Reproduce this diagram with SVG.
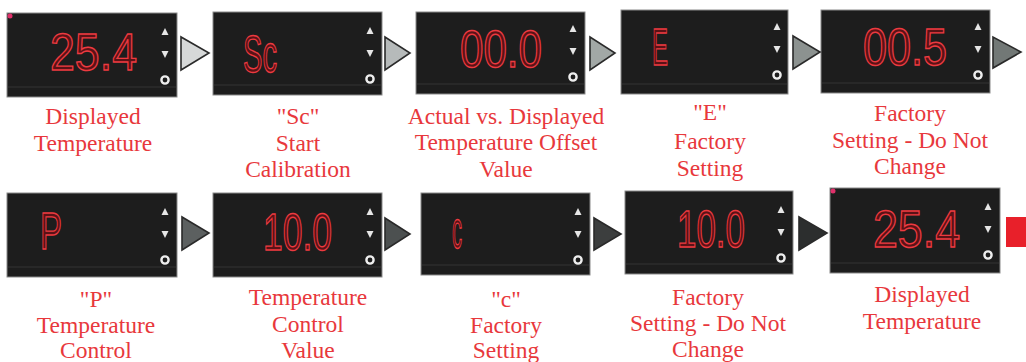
<svg xmlns="http://www.w3.org/2000/svg" xmlns:xlink="http://www.w3.org/1999/xlink" width="1026" height="362" viewBox="0 0 1026 362">
<style>
.scr{fill:#1d1d1d;stroke:#8a8a8a;stroke-width:1}
.strip{stroke:#343434;stroke-width:1}
.seg{font-family:"Liberation Sans",Arial,sans-serif;font-size:51px;fill:#5a1216;stroke:#ec3a40;stroke-width:1.4}
.lbl{font-family:"Liberation Serif","Times New Roman",serif;font-size:23.5px;fill:#e8383c;text-anchor:middle}
.arr{stroke:#2a2a2a;stroke-width:1.6;stroke-linejoin:miter}
.btn{fill:#e6e6e6}
.dot{fill:#e0306a}
</style>
<defs>
<g id="btns">
<polygon class="btn" points="-3.5,22 3.5,22 0,15"/>
<polygon class="btn" points="-3.5,38 3.5,38 0,45"/>
<circle cx="0" cy="0" r="3.6" fill="#1d1d1d" stroke="#eeeeee" stroke-width="2.4" transform="translate(0,67)"/>
</g>
</defs>
<rect width="1026" height="362" fill="#ffffff"/>

<g id="panel1" transform="translate(7,13)">
<rect class="scr" width="170" height="84"/><line class="strip" x1="1" y1="74" x2="169" y2="74"/>
<circle class="dot" cx="3" cy="3" r="2.5"/>
<use xlink:href="#btns" x="158" y="0"/>
<text class="seg" x="43" y="57" textLength="87" lengthAdjust="spacingAndGlyphs">25.4</text>
</g>
<g id="panel2" transform="translate(213,12)">
<rect class="scr" width="169" height="83"/><line class="strip" x1="1" y1="73" x2="168" y2="73"/>
<use xlink:href="#btns" x="157" y="0"/>
<text class="seg" x="30" y="60" textLength="34" lengthAdjust="spacingAndGlyphs">Sc</text>
</g>
<g id="panel3" transform="translate(416,12)">
<rect class="scr" width="169" height="82"/><line class="strip" x1="1" y1="72" x2="168" y2="72"/>
<use xlink:href="#btns" x="157" y="-2"/>
<text class="seg" x="44" y="55" textLength="82" lengthAdjust="spacingAndGlyphs">00.0</text>
</g>
<g id="panel4" transform="translate(621,10)">
<rect class="scr" width="167" height="84"/><line class="strip" x1="1" y1="74" x2="166" y2="74"/>
<use xlink:href="#btns" x="156" y="-2"/>
<text class="seg" x="31" y="55" textLength="16" lengthAdjust="spacingAndGlyphs">E</text>
</g>
<g id="panel5" transform="translate(821,10)">
<rect class="scr" width="169" height="83"/><line class="strip" x1="1" y1="73" x2="168" y2="73"/>
<use xlink:href="#btns" x="157" y="-2"/>
<text class="seg" x="42" y="55" textLength="84" lengthAdjust="spacingAndGlyphs">00.5</text>
</g>

<g id="panel6" transform="translate(7,193)">
<rect class="scr" width="170" height="84"/><line class="strip" x1="1" y1="74" x2="169" y2="74"/>
<use xlink:href="#btns" x="158" y="0"/>
<text class="seg" x="33" y="56" textLength="22" lengthAdjust="spacingAndGlyphs">P</text>
</g>
<g id="panel7" transform="translate(213,193)">
<rect class="scr" width="169" height="84"/><line class="strip" x1="1" y1="74" x2="168" y2="74"/>
<use xlink:href="#btns" x="157" y="0"/>
<text class="seg" x="50" y="57" textLength="69" lengthAdjust="spacingAndGlyphs">10.0</text>
</g>
<g id="panel8" transform="translate(421,193)">
<rect class="scr" width="169" height="82"/><line class="strip" x1="1" y1="72" x2="168" y2="72"/>
<use xlink:href="#btns" x="157" y="0"/>
<text class="seg" x="31" y="55" textLength="10" lengthAdjust="spacingAndGlyphs">c</text>
</g>
<g id="panel9" transform="translate(625,191)">
<rect class="scr" width="168" height="83"/><line class="strip" x1="1" y1="73" x2="167" y2="73"/>
<use xlink:href="#btns" x="156" y="0"/>
<text class="seg" x="52" y="56" textLength="68" lengthAdjust="spacingAndGlyphs">10.0</text>
</g>
<g id="panel10" transform="translate(830,188)">
<rect class="scr" width="170" height="85"/><line class="strip" x1="1" y1="75" x2="169" y2="75"/>
<circle class="dot" cx="3" cy="3" r="2.5"/>
<use xlink:href="#btns" x="158" y="0"/>
<text class="seg" x="43" y="59" textLength="87" lengthAdjust="spacingAndGlyphs">25.4</text>
</g>

<g id="connectors">
<polygon class="arr" fill="#d6d8d8" points="181,37 181,70 209,53"/>
<polygon class="arr" fill="#b6baba" points="385,37 385,70 410,53"/>
<polygon class="arr" fill="#a2a8a6" points="590,37 590,70 615,53"/>
<polygon class="arr" fill="#8c9290" points="793,36 793,69 820,52"/>
<polygon class="arr" fill="#727876" points="993,37 993,68 1021,52"/>
<polygon class="arr" fill="#5c6060" points="182,217 182,250 209,233"/>
<polygon class="arr" fill="#4c5050" points="385,218 385,250 410,234"/>
<polygon class="arr" fill="#3c3e3e" points="594,218 594,250 621,234"/>
<polygon class="arr" fill="#2c2e2e" points="799,217 799,250 827,233"/>
<rect x="1006" y="217" width="20" height="30" fill="#e8202a"/>
</g>

<g id="labels">
<text class="lbl" x="93" y="124">Displayed</text>
<text class="lbl" x="93" y="151">Temperature</text>
<text class="lbl" x="298" y="124">"Sc"</text>
<text class="lbl" x="298" y="151">Start</text>
<text class="lbl" x="298" y="177">Calibration</text>
<text class="lbl" x="506" y="124">Actual vs. Displayed</text>
<text class="lbl" x="506" y="150">Temperature Offset</text>
<text class="lbl" x="506" y="177">Value</text>
<text class="lbl" x="710" y="120">"E"</text>
<text class="lbl" x="710" y="149">Factory</text>
<text class="lbl" x="710" y="176">Setting</text>
<text class="lbl" x="910" y="121">Factory</text>
<text class="lbl" x="910" y="148">Setting - Do Not</text>
<text class="lbl" x="910" y="174">Change</text>

<text class="lbl" x="96" y="307">"P"</text>
<text class="lbl" x="96" y="333">Temperature</text>
<text class="lbl" x="96" y="358">Control</text>
<text class="lbl" x="308" y="305">Temperature</text>
<text class="lbl" x="308" y="332">Control</text>
<text class="lbl" x="308" y="358">Value</text>
<text class="lbl" x="506" y="307">"c"</text>
<text class="lbl" x="506" y="333">Factory</text>
<text class="lbl" x="506" y="358">Setting</text>
<text class="lbl" x="708" y="305">Factory</text>
<text class="lbl" x="708" y="331">Setting - Do Not</text>
<text class="lbl" x="708" y="357">Change</text>
<text class="lbl" x="922" y="302">Displayed</text>
<text class="lbl" x="922" y="329">Temperature</text>
</g>
</svg>
